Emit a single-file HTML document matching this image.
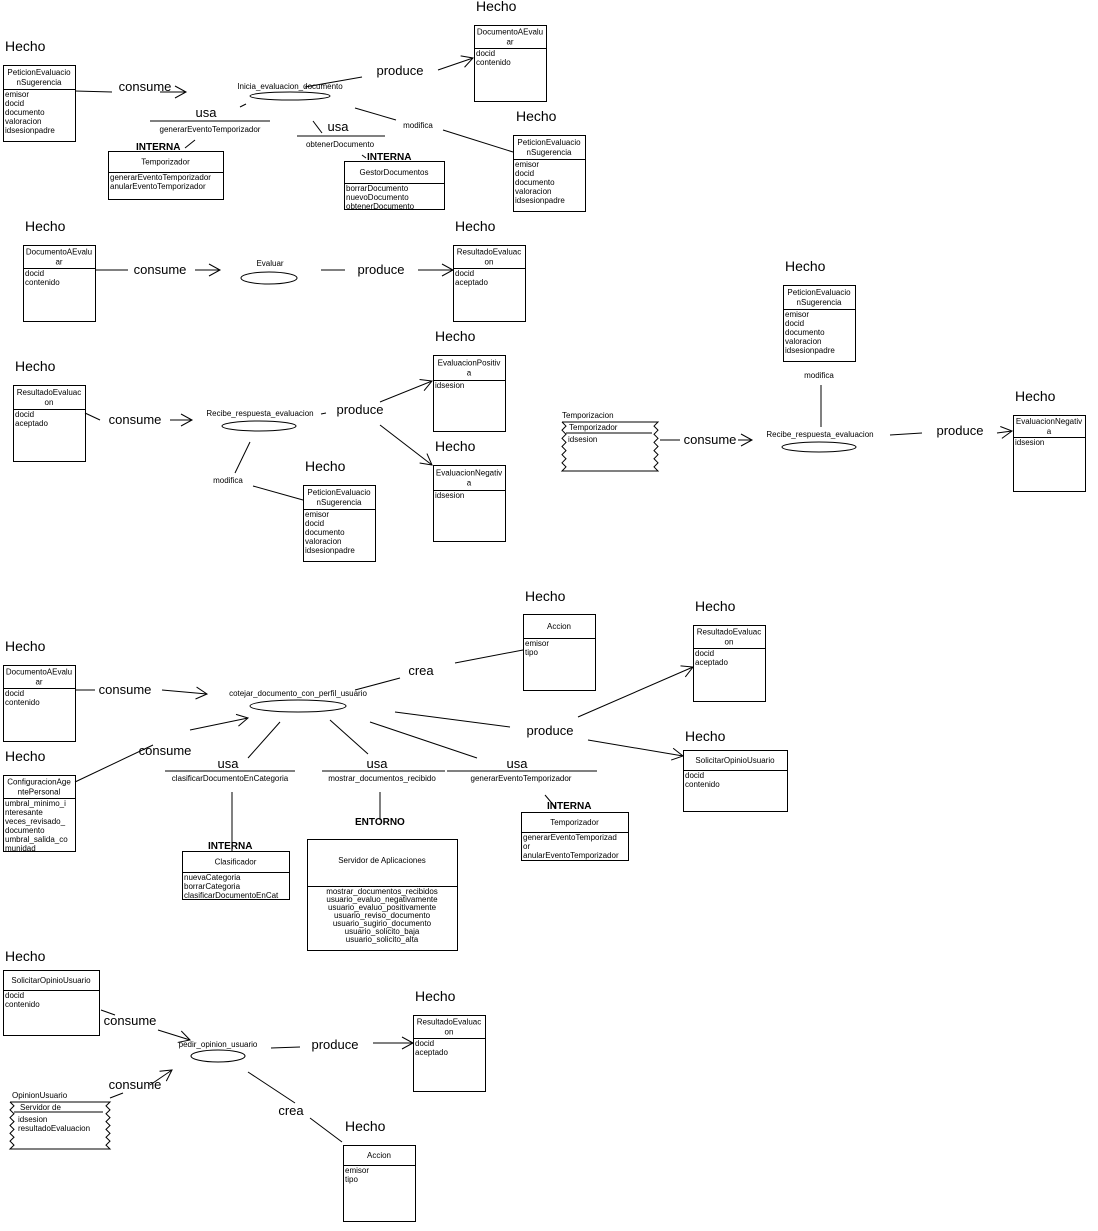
<!DOCTYPE html>
<html><head><meta charset="utf-8"><style>
html,body{margin:0;padding:0;background:#fff;}
svg{display:block;}
text{font-family:"Liberation Sans",sans-serif;fill:#000;}
.h{font-size:14px;}
.l{font-size:13px;}
.s{font-size:8px;}
.b{font-size:10px;font-weight:bold;}
</style></head><body>
<svg id="d" width="1098" height="1231" viewBox="0 0 1098 1231" xmlns="http://www.w3.org/2000/svg">
<defs><marker id="a" markerWidth="14" markerHeight="14" refX="12" refY="7" orient="auto" markerUnits="userSpaceOnUse"><path d="M1,1 L12,7 L1,13" fill="none" stroke="#000" stroke-width="1"/></marker></defs>
</svg>
<script>
var s=document.getElementById('d'),o='';
function T(x,y,t,c,a){o+='<text x="'+x+'" y="'+y+'" class="'+c+'"'+(a?' text-anchor="middle"':'')+'>'+t+'</text>';}
function L(x1,y1,x2,y2,ar){o+='<line x1="'+x1+'" y1="'+y1+'" x2="'+x2+'" y2="'+y2+'" stroke="#000" stroke-width="1"'+(ar?' marker-end="url(#a)"':'')+'/>';}
function E(cx,cy,rx,ry){o+='<ellipse cx="'+cx+'" cy="'+cy+'" rx="'+rx+'" ry="'+ry+'" fill="none" stroke="#000"/>';}
function B(x,y,w,h,d,title,at,center){o+='<rect x="'+(x+.5)+'" y="'+(y+.5)+'" width="'+w+'" height="'+h+'" fill="none" stroke="#000"/>';L(x,d+.5,x+w,d+.5);
 var ty=y+ (d-y)/2 - (title.length-1)*5+3;
 title.forEach(function(t,i){T(x+w/2,ty+i*10,t,'s',1);});
 at.forEach(function(t,i){ if(center)T(x+w/2,d+9+i*8,t,'s',1); else T(x+2,d+8+i*9,t,'s');});}
function J(x,y,w,h){var n=Math.round(h/8),st=h/n,p='M'+x+','+y+' L'+(x+w)+','+y;
 for(var i=0;i<n;i++){p+=' L'+(x+w-4)+','+(y+i*st+st/2)+' L'+(x+w)+','+(y+(i+1)*st);}
 p+=' L'+x+','+(y+h);
 for(var i=n;i>0;i--){p+=' L'+(x+4)+','+(y+i*st-st/2)+' L'+x+','+(y+(i-1)*st);}
 o+='<path d="'+p+'" fill="none" stroke="#000"/>';}
var PES=['PeticionEvaluacio','nSugerencia'],PEA=['emisor','docid','documento','valoracion','idsesionpadre'];
var DAE=['DocumentoAEvalu','ar'],RE=['ResultadoEvaluac','on'];
// Section 1
T(5,51,'Hecho','h');B(3,65,72,76,89,PES,PEA);
L(75,91,112,92);T(145,91,'consume','l',1);L(160,92,186,92,1);
T(290,89,'Inicia_evaluacion_documento','s',1);E(290,96,40,4);
L(305,87,362,77);T(400,75,'produce','l',1);L(438,70,473,58,1);
T(476,11,'Hecho','h');B(474,25,72,76,48,DAE,['docid','contenido']);
L(240,107,246,104);T(206,117,'usa','l',1);L(150,121,270,121);T(210,132,'generarEventoTemporizador','s',1);
L(185,148,195,140);T(136,150,'INTERNA','b');B(108,151,115,48,172,['Temporizador'],['generarEventoTemporizador','anularEventoTemporizador']);
L(313,121,322,133);T(338,131,'usa','l',1);L(297,136,385,136);T(340,147,'obtenerDocumento','s',1);
L(362,155,366,158);T(367,160,'INTERNA','b');B(344,161,100,48,183,['GestorDocumentos'],['borrarDocumento','nuevoDocumento','obtenerDocumento']);
L(355,108,396,120);T(418,128,'modifica','s',1);L(443,130,513,152);
T(516,121,'Hecho','h');B(513,135,72,76,159,PES,PEA);
// Section 2
T(25,231,'Hecho','h');B(23,245,72,76,268,DAE,['docid','contenido']);
L(95,270,128,270);T(160,274,'consume','l',1);L(195,270,220,270,1);
T(270,266,'Evaluar','s',1);E(269,278,28,6);
L(321,270,345,270);T(381,274,'produce','l',1);L(418,270,453,270,1);
T(455,231,'Hecho','h');B(453,245,72,76,268,RE,['docid','aceptado']);
// Section 3
T(15,371,'Hecho','h');B(13,385,72,76,409,RE,['docid','aceptado']);
L(85,413,100,420);T(135,424,'consume','l',1);L(170,420,192,420,1);
T(260,416,'Recibe_respuesta_evaluacion','s',1);E(259,426,37,5);L(321,414,326,413);
T(360,414,'produce','l',1);L(380,402,432,381,1);L(380,425,432,465,1);
T(435,341,'Hecho','h');B(433,355,72,76,380,['EvaluacionPositiv','a'],['idsesion']);
T(435,451,'Hecho','h');B(433,465,72,76,490,['EvaluacionNegativ','a'],['idsesion']);
L(250,442,235,473);T(228,483,'modifica','s',1);L(253,486,303,500);
T(305,471,'Hecho','h');B(303,485,72,76,509,PES,PEA);
T(562,418,'Temporizacion','s');J(562,422,96,49);T(569,430,'Temporizador','s');L(566,433,652,433);T(568,442,'idsesion','s');
L(660,440,680,440);T(710,444,'consume','l',1);L(738,440,752,440,1);
T(820,437,'Recibe_respuesta_evaluacion','s',1);E(819,447,37,5);
L(890,435,922,433);T(960,435,'produce','l',1);L(997,433,1012,431,1);
T(1015,401,'Hecho','h');B(1013,415,72,76,437,['EvaluacionNegativ','a'],['idsesion']);
T(785,271,'Hecho','h');B(783,285,72,76,309,PES,PEA);
T(819,378,'modifica','s',1);L(821,385,821,427);
// Section 4
T(5,651,'Hecho','h');B(3,665,72,76,688,DAE,['docid','contenido']);
L(75,690,95,690);T(125,694,'consume','l',1);L(162,690,207,694,1);
T(298,696,'cotejar_documento_con_perfil_usuario','s',1);E(298,706,48,6);
L(355,690,400,678);T(421,675,'crea','l',1);L(455,663,523,650);
T(525,601,'Hecho','h');B(523,614,72,76,638,['Accion'],['emisor','tipo']);
L(395,712,510,727);T(550,735,'produce','l',1);L(578,717,693,667,1);L(588,740,683,756,1);
T(695,611,'Hecho','h');B(693,625,72,76,648,RE,['docid','aceptado']);
T(685,741,'Hecho','h');B(683,750,104,61,770,['SolicitarOpinioUsuario'],['docid','contenido']);
L(75,782,153,745);T(165,755,'consume','l',1);L(190,730,248,718,1);
T(5,761,'Hecho','h');B(3,775,72,76,798,['ConfiguracionAge','ntePersonal'],['umbral_minimo_i','nteresante','veces_revisado_','documento','umbral_salida_co','munidad']);
L(280,722,248,758);T(228,768,'usa','l',1);L(165,771,295,771);T(230,781,'clasificarDocumentoEnCategoria','s',1);L(232,792,232,852);
T(208,849,'INTERNA','b');B(182,851,107,48,872,['Clasificador'],['nuevaCategoria','borrarCategoria','clasificarDocumentoEnCat']);
L(330,720,368,754);T(377,768,'usa','l',1);L(322,771,445,771);T(382,781,'mostrar_documentos_recibido','s',1);L(380,792,380,820);
T(355,825,'ENTORNO','b');o+='<rect x="307.5" y="839.5" width="150" height="111" fill="none" stroke="#000"/>';T(382,863,'Servidor de Aplicaciones','s',1);L(307,886.5,457,886.5);
['mostrar_documentos_recibidos','usuario_evaluo_negativamente','usuario_evaluo_positivamente','usuario_reviso_documento','usuario_sugirio_documento','usuario_solicito_baja','usuario_solicito_alta'].forEach(function(t,i){T(382,894+i*8,t,'s',1);});
L(370,722,477,758);T(517,768,'usa','l',1);L(447,771,597,771);T(521,781,'generarEventoTemporizador','s',1);L(545,795,556,808);
T(547,809,'INTERNA','b');B(521,812,107,48,832,['Temporizador'],['generarEventoTemporizad','or','anularEventoTemporizador']);
// Section 5
T(5,961,'Hecho','h');B(3,970,96,65,990,['SolicitarOpinioUsuario'],['docid','contenido']);
L(101,1010,115,1015);T(130,1025,'consume','l',1);L(158,1030,190,1040,1);
T(218,1047,'pedir_opinion_usuario','s',1);E(218,1056,27,6);
L(271,1048,300,1047);T(335,1049,'produce','l',1);L(373,1043,413,1043,1);
T(415,1001,'Hecho','h');B(413,1015,72,76,1038,RE,['docid','aceptado']);
T(12,1098,'OpinionUsuario','s');J(10,1102,100,47);T(20,1110,'Servidor de','s');L(14,1112,103,1112);T(18,1122,'idsesion','s');T(18,1131,'resultadoEvaluacion','s');
L(110,1098,123,1093);T(135,1089,'consume','l',1);L(150,1085,172,1070,1);
L(248,1072,295,1103);T(291,1115,'crea','l',1);L(310,1118,342,1142);
T(345,1131,'Hecho','h');B(343,1145,72,76,1165,['Accion'],['emisor','tipo']);
s.innerHTML+=o;
</script>
</body></html>
